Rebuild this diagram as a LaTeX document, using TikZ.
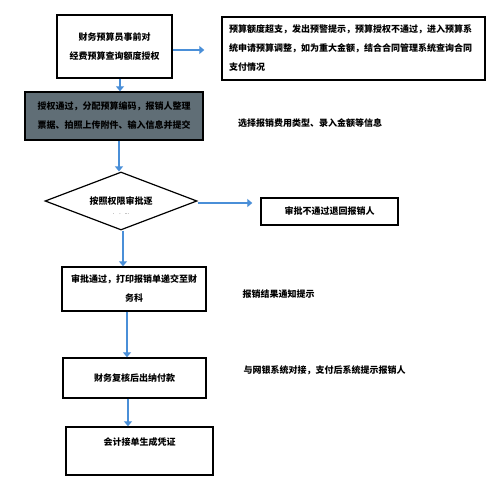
\documentclass[tikz,border=0pt]{standalone}
\usepackage{fontspec}
\setmainfont{Noto Sans CJK SC}
\usetikzlibrary{shapes.geometric,arrows.meta}
\definecolor{flowblue}{RGB}{74,143,216}
\definecolor{slate}{RGB}{96,110,118}
\begin{document}
\begin{tikzpicture}[
  x=1pt, y=-1pt,
  font=\fontsize{9}{19}\selectfont\bfseries,
  box/.style={draw=black, line width=1.4pt, fill=white, align=center, inner sep=0pt},
  darkbox/.style={box, fill=slate},
  note/.style={align=left, inner sep=0pt},
  dec/.style={draw=black, line width=1.2pt, shape=diamond, aspect=2.62,
              minimum width=152pt, minimum height=58pt, inner sep=0pt, align=center},
  e/.style={draw=flowblue, line width=2.8pt, -{Triangle[length=5pt,width=8pt]}}
]
\useasboundingbox (0,0) rectangle (500,481);

% main column
\node[box, minimum width=115pt, minimum height=63pt] (auth) at (114.5,46.5)
  {财务预算员事前对\\经费预算查询额度授权};
\node[darkbox, minimum width=178pt, minimum height=48pt] (submit) at (114,116)
  {授权通过，分配预算编码，报销人整理\\票据、拍照上传附件、输入信息并提交};
\node[dec] (approve) at (121,201)
  {\rule{0pt}{18pt}按照权限审批逐\\[-9pt]{\fontsize{5}{6}\selectfont\mdseries .\hspace{5pt}.\hspace{4pt}...}};
\node[box, minimum width=144pt, minimum height=44pt] (print) at (134,289)
  {审批通过，打印报销单递交至财\\务科};
\node[box, minimum width=143pt, minimum height=40pt] (pay) at (134.5,378)
  {财务复核后出纳付款};
\node[box, minimum width=147pt, minimum height=48pt] (voucher) at (139.5,451)
  {会计接单生成凭证\\~};

% side boxes and notes
\node[box, minimum width=263pt, minimum height=63pt, text width=249pt, align=left] (over) at (353.5,48.5)
  {预算额度超支，发出预警提示，预算授权不通过，进入预算系\\统申请预算调整，如为重大金额，结合合同管理系统查询合同\\支付情况};
\node[note] (choose) at (310,123) {选择报销费用类型、录入金额等信息};
\node[box, minimum width=137pt, minimum height=27pt] (reject) at (329.5,211.5)
  {审批不通过退回报销人};
\node[note] (notify) at (278.5,294) {报销结果通知提示};
\node[note] (bank) at (324.5,370) {与网银系统对接，支付后系统提示报销人};

% arrows
\draw[e] ([xshift=5.5pt]auth.south) -- ([xshift=5.5pt]auth.south |- submit.north);
\draw[e, shorten >=17pt] ([yshift=-3.5pt]auth.east) -- ([yshift=-3.5pt]auth.east -| over.west);
\draw[e] ([xshift=5pt]submit.south) -- ([xshift=5pt]submit.south |- approve.north);
\draw[e, shorten >=8pt] ([yshift=-2pt]approve.east) -- ([yshift=-2pt]approve.east -| reject.west);
\draw[e] ([xshift=2pt]approve.south) -- ([xshift=2pt]approve.south |- print.north);
\draw[e] ([xshift=-7pt]print.south) -- ([xshift=-7pt]print.south |- pay.north);
\draw[e] ([xshift=-6.5pt]pay.south) -- ([xshift=-6.5pt]pay.south |- voucher.north);

\end{tikzpicture}
\end{document}
